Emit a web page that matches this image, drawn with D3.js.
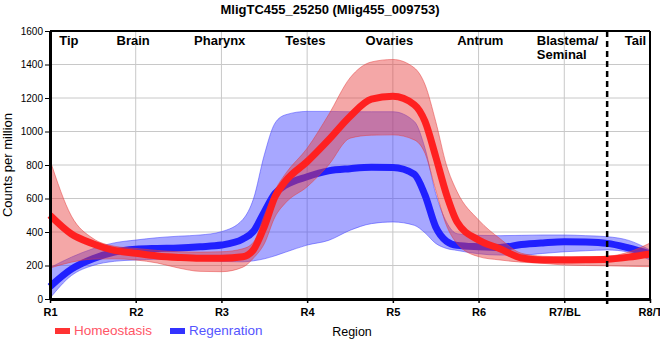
<!DOCTYPE html>
<html>
<head>
<meta charset="utf-8">
<script src="https://cdn.jsdelivr.net/npm/d3@7"></script>
<style>
  html, body { margin: 0; padding: 0; background: #fff; }
  svg { display: block; font-family: "Liberation Sans", Arial, sans-serif; }
</style>
</head>
<body>
<svg id="chart" width="660" height="360"></svg>
<script>
// ---- data ----
const positions  = [1, 1.25, 1.5, 1.75, 2, 2.25, 2.5, 2.75, 3, 3.25, 3.375, 3.5, 3.625, 3.75, 4, 4.25, 4.5, 4.75, 5, 5.25, 5.375, 5.5, 5.625, 5.75, 6, 6.25, 6.5, 6.75, 7, 7.25, 7.5, 7.75, 8];
const homeoMean  = [500, 388, 330, 290, 273, 257, 248, 243, 243, 252, 295, 432, 610, 705, 820, 950, 1090, 1193, 1210, 1160, 1060, 850, 625, 460, 352, 300, 245, 233, 233, 234, 237, 250, 269];
const homeoUpper = [830, 495, 362, 315, 302, 290, 282, 280, 282, 300, 340, 500, 650, 750, 900, 1100, 1320, 1415, 1430, 1380, 1280, 1060, 800, 640, 472, 360, 273, 255, 252, 252, 255, 280, 334];
const homeoLower = [185, 220, 238, 240, 233, 215, 185, 165, 163, 190, 245, 330, 490, 575, 670, 800, 960, 978, 980, 950, 870, 650, 440, 330, 253, 233, 220, 213, 203, 200, 198, 195, 193];
const regenMean  = [74, 178, 240, 280, 297, 302, 305, 312, 322, 358, 405, 520, 630, 680, 730, 765, 778, 786, 785, 745, 620, 430, 345, 320, 312, 308, 325, 335, 342, 340, 332, 305, 269];
const regenUpper = [187, 250, 300, 335, 352, 366, 375, 382, 402, 475, 600, 860, 1050, 1100, 1120, 1120, 1118, 1118, 1118, 1060, 900, 630, 460, 390, 380, 378, 380, 382, 382, 378, 372, 350, 293];
const regenLower = [5, 140, 200, 225, 233, 237, 237, 230, 225, 222, 228, 240, 258, 280, 322, 350, 410, 450, 460, 440, 395, 332, 302, 290, 270, 262, 262, 272, 282, 288, 293, 280, 233];

const xTickValues = [1, 2, 3, 4, 5, 6, 7, 8];
const xTickLabels = ["R1", "R2", "R3", "R4", "R5", "R6", "R7/BL", "R8/T"];
const yTickValues = [0, 200, 400, 600, 800, 1000, 1200, 1400, 1600];
const regionNames  = ["Tip", "Brain", "Pharynx", "Testes", "Ovaries", "Antrum", "Blastema/", "Tail"];
const regionPos    = [1.22, 1.97, 2.98, 3.98, 4.96, 6.02, 6.68, 7.83];
const regionAnchor = ["middle", "middle", "middle", "middle", "middle", "middle", "start", "middle"];
const dividerPos = 7.5;
const seriesNames = ["Homeostasis", "Regenration"];
const chartTitle = "MligTC455_25250 (Mlig455_009753)";

(function () {
// ---- layout ----
const svg = d3.select("#chart");
const mLeft = 50, mRight = 650, mTop = 31, mBottom = 299;
const x = d3.scaleLinear().domain([1, 8]).range([mLeft, mRight]);
const y = d3.scaleLinear().domain([0, 1600]).range([mBottom, mTop]);

// grid
const grid = svg.append("g");
grid.selectAll(".vg").data(xTickValues.slice(1, -1)).join("line")
  .attr("x1", d => x(d)).attr("x2", d => x(d)).attr("y1", mTop).attr("y2", mBottom)
  .attr("stroke", "#c8c8c8").attr("stroke-width", 1);
grid.selectAll(".hg").data(yTickValues.slice(1, -1)).join("line")
  .attr("x1", mLeft).attr("x2", mRight).attr("y1", d => y(d)).attr("y2", d => y(d))
  .attr("stroke", "#c8c8c8").attr("stroke-width", 1);

const curve = d3.curveMonotoneX;
function band(upper, lower) {
  const pts = positions.map((p, i) => ({p, u: upper[i], l: lower[i]}));
  return d3.area().x(d => x(d.p)).y0(d => y(d.l)).y1(d => y(d.u)).curve(curve)(pts);
}
function line(vals) {
  const pts = positions.map((p, i) => ({p, v: vals[i]}));
  return d3.line().x(d => x(d.p)).y(d => y(d.v)).curve(curve)(pts);
}

const plot = svg.append("g");
// regeneration
plot.append("path").attr("d", band(regenUpper, regenLower))
  .attr("fill", "rgb(60,60,255)").attr("fill-opacity", 0.45)
  .attr("stroke", "rgb(60,60,255)").attr("stroke-opacity", 0.5).attr("stroke-width", 1);
plot.append("path").attr("d", line(regenMean))
  .attr("fill", "none").attr("stroke", "#2020ff").attr("stroke-width", 7);
// homeostasis
plot.append("path").attr("d", band(homeoUpper, homeoLower))
  .attr("fill", "rgb(230,60,60)").attr("fill-opacity", 0.45)
  .attr("stroke", "rgb(230,60,60)").attr("stroke-opacity", 0.5).attr("stroke-width", 1);
plot.append("path").attr("d", line(homeoMean))
  .attr("fill", "none").attr("stroke", "#ff2020").attr("stroke-width", 7);

// axes
const xAxis = svg.append("g").attr("transform", `translate(0,${mBottom})`)
  .call(d3.axisBottom(x).tickValues(xTickValues).tickFormat((d, i) => xTickLabels[i]).tickSize(4).tickSizeOuter(0).tickPadding(5));
xAxis.select(".domain").attr("stroke-width", 3);
xAxis.selectAll(".tick line").attr("stroke-width", 1.5);
xAxis.selectAll("text").attr("font-size", 11).attr("font-weight", "bold").attr("fill", "#000")
  .attr("font-family", "Liberation Sans, Arial, sans-serif");

const yAxis = svg.append("g").attr("transform", `translate(${mLeft},0)`)
  .call(d3.axisLeft(y).tickValues(yTickValues).tickFormat(d3.format("d")).tickSize(5).tickSizeOuter(0).tickPadding(2));
yAxis.select(".domain").attr("stroke-width", 3);
yAxis.selectAll("text").attr("font-size", 10).attr("fill", "#000")
  .attr("font-family", "Liberation Sans, Arial, sans-serif");

// top and right border
svg.append("line").attr("x1", mLeft).attr("x2", mRight).attr("y1", mTop).attr("y2", mTop)
  .attr("stroke", "#000").attr("stroke-width", 2);
svg.append("line").attr("x1", mRight).attr("x2", mRight).attr("y1", mTop).attr("y2", mBottom)
  .attr("stroke", "#000").attr("stroke-width", 2);

// divider
svg.append("line").attr("x1", x(dividerPos)).attr("x2", x(dividerPos)).attr("y1", mTop).attr("y2", mBottom + 5)
  .attr("stroke", "#000").attr("stroke-width", 2.5).attr("stroke-dasharray", "6,4");

// region labels
svg.selectAll(".region").data(regionNames).join("text")
  .attr("x", (d, i) => x(regionPos[i]))
  .attr("y", 45)
  .attr("text-anchor", (d, i) => regionAnchor[i])
  .attr("font-size", 13).attr("font-weight", "bold").attr("fill", "#000")
  .text(d => d);
svg.append("text").attr("x", x(regionPos[6])).attr("y", 59)
  .attr("font-size", 13).attr("font-weight", "bold").attr("fill", "#000").text("Seminal");

// title
svg.append("text").attr("x", 330).attr("y", 14).attr("text-anchor", "middle")
  .attr("font-size", 13).attr("font-weight", "bold").text(chartTitle);

// y axis title
svg.append("text").attr("transform", "translate(12,165) rotate(-90)").attr("text-anchor", "middle")
  .attr("font-size", 13).text("Counts per million");

// x axis title
svg.append("text").attr("x", 352).attr("y", 336).attr("text-anchor", "middle")
  .attr("font-size", 12.5).text("Region");

// legend
const legendColors = ["#ff3333", "#3333ff"];
const legendTextColors = ["#ff5566", "#5555ff"];
const legendX = [55, 170];
seriesNames.forEach((name, i) => {
  svg.append("rect").attr("x", legendX[i]).attr("y", 328).attr("width", 15).attr("height", 6)
    .attr("fill", legendColors[i]);
  svg.append("text").attr("x", legendX[i] + 19).attr("y", 335)
    .attr("font-size", 13.5).attr("fill", legendTextColors[i]).text(name);
});
})();
</script>
</body>
</html>
